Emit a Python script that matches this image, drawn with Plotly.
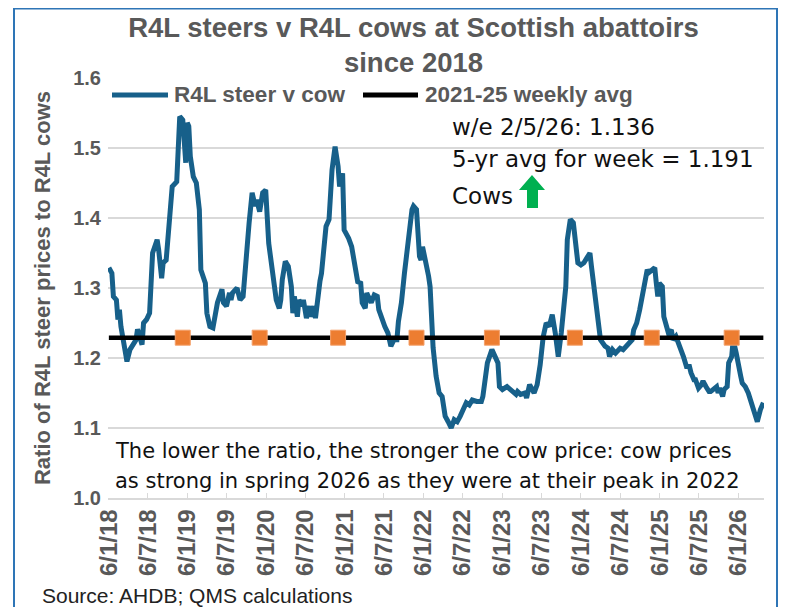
import plotly.graph_objects as go
import pandas as pd

# ---------------- data ----------------
start_date = "2018-01-06"
weeks = [0, 2, 3, 5, 6, 7, 8, 10, 12, 14, 16, 18, 19, 21, 22, 23, 25, 27, 28, 29,
         32, 33, 35, 36, 38, 40, 41, 42, 45, 46, 47, 49, 50, 51, 52, 53, 54, 56, 58, 60,
         61, 64, 65, 67, 69, 71, 72, 75, 76, 78, 80, 81, 82, 85, 87, 89, 91, 92, 93, 95,
         97, 98, 100, 102, 104, 106, 107, 109, 111, 113, 114, 115, 117, 119, 121, 122, 123, 125, 126, 128,
         129, 131, 133, 134, 136, 137, 139, 140, 141, 142, 144, 146, 148, 150, 152, 153, 155, 156, 159, 161,
         163, 165, 167, 168, 170, 171, 172, 174, 176, 178, 179, 181, 183, 185, 186, 187, 189, 191, 192, 194,
         196, 198, 199, 201, 202, 204, 206, 207, 208, 210, 212, 213, 214, 215, 217, 219, 221, 223, 225, 227,
         229, 231, 233, 235, 237, 239, 241, 244, 247, 248, 250, 251, 254, 256, 258, 259, 261, 264, 266, 268,
         270, 271, 273, 276, 277, 279, 281, 282, 284, 286, 288, 290, 292, 294, 296, 298, 300, 301, 303, 304,
         306, 308, 309, 311, 313, 315, 317, 319, 320, 321, 323, 325, 326, 329, 331, 332, 334, 336, 339, 341,
         343, 345, 347, 348, 350, 352, 354, 355, 357, 358, 360, 362, 363, 364, 365, 367, 368, 370, 371, 373,
         374, 376, 378, 379, 381, 383, 385, 386, 388, 389, 391, 393, 394, 396, 398, 399, 401, 403, 404, 405,
         407, 408, 410, 411, 413, 414, 416, 417, 419, 420, 422, 424, 426, 428, 430, 432, 434]
ratio = [1.329, 1.321, 1.288, 1.283, 1.255, 1.269, 1.245, 1.217, 1.195, 1.212, 1.219, 1.226, 1.241, 1.226, 1.219, 1.250, 1.255, 1.264, 1.302, 1.350,
         1.369, 1.355, 1.314, 1.336, 1.340, 1.388, 1.431, 1.445, 1.452, 1.498, 1.545, 1.540, 1.507, 1.479, 1.536, 1.531, 1.488, 1.459, 1.450, 1.412,
         1.326, 1.307, 1.264, 1.245, 1.243, 1.269, 1.279, 1.298, 1.279, 1.274, 1.293, 1.283, 1.293, 1.300, 1.283, 1.288, 1.350, 1.359, 1.393, 1.436,
         1.417, 1.426, 1.409, 1.436, 1.440, 1.364, 1.345, 1.307, 1.283, 1.271, 1.283, 1.312, 1.338, 1.331, 1.302, 1.264, 1.288, 1.259, 1.283, 1.274,
         1.283, 1.257, 1.274, 1.259, 1.274, 1.257, 1.298, 1.310, 1.321, 1.350, 1.388, 1.398, 1.469, 1.502, 1.474, 1.445, 1.464, 1.383, 1.371, 1.359,
         1.331, 1.309, 1.307, 1.279, 1.271, 1.293, 1.288, 1.279, 1.290, 1.288, 1.269, 1.255, 1.245, 1.236, 1.221, 1.217, 1.226, 1.226, 1.252, 1.279,
         1.321, 1.359, 1.383, 1.412, 1.417, 1.412, 1.345, 1.340, 1.359, 1.340, 1.317, 1.302, 1.259, 1.215, 1.174, 1.150, 1.145, 1.117, 1.109, 1.100,
         1.112, 1.109, 1.117, 1.126, 1.136, 1.133, 1.140, 1.138, 1.138, 1.145, 1.183, 1.193, 1.212, 1.200, 1.193, 1.159, 1.155, 1.159, 1.155, 1.152,
         1.148, 1.152, 1.148, 1.150, 1.143, 1.162, 1.155, 1.150, 1.162, 1.190, 1.230, 1.250, 1.245, 1.262, 1.236, 1.202, 1.236, 1.255, 1.302, 1.369,
         1.398, 1.393, 1.369, 1.336, 1.333, 1.336, 1.343, 1.350, 1.331, 1.312, 1.283, 1.250, 1.226, 1.217, 1.214, 1.202, 1.212, 1.207, 1.214, 1.212,
         1.217, 1.221, 1.226, 1.240, 1.250, 1.269, 1.293, 1.312, 1.326, 1.322, 1.326, 1.329, 1.307, 1.288, 1.307, 1.302, 1.259, 1.245, 1.236, 1.240,
         1.226, 1.231, 1.221, 1.212, 1.202, 1.188, 1.188, 1.179, 1.169, 1.169, 1.157, 1.162, 1.167, 1.159, 1.152, 1.152, 1.155, 1.159, 1.150, 1.157,
         1.145, 1.155, 1.159, 1.193, 1.202, 1.226, 1.207, 1.193, 1.174, 1.164, 1.159, 1.150, 1.136, 1.121, 1.109, 1.126, 1.136]

avg_value = 1.229
avg_weeks = [0, 434]
marker_weeks = [49, 100, 152, 204, 254, 309, 360, 413]

series_names = ["R4L steer v cow", "2021-25 weekly avg"]
series_colors = ["#17608A", "#000000"]

tick_labels = ["6/1/18", "6/7/18", "6/1/19", "6/7/19", "6/1/20", "6/7/20", "6/1/21", "6/7/21",
               "6/1/22", "6/7/22", "6/1/23", "6/7/23", "6/1/24", "6/7/24", "6/1/25", "6/7/25", "6/1/26"]
y_ticks = [1.0, 1.1, 1.2, 1.3, 1.4, 1.5, 1.6]

# ---------------- helpers ----------------
t0 = pd.Timestamp(start_date)
def wk(ws):
    return [t0 + pd.Timedelta(days=7 * w) for w in ws]

tick_dates = [t0 + pd.DateOffset(months=6 * i) for i in range(len(tick_labels))]

OFF = 8                      # page body margin
W, H = 789 - OFF, 607 - OFF
L, R, T, B = 100, 25, 70, 109
PW, PH = W - L - R, H - T - B
def px(xp):                  # page pixel -> paper
    return (xp - OFF - L) / PW
def py(yp):
    return (H - B - (yp - OFF)) / PH

GRAY = "#595959"
BOLD = "Liberation Sans, Arial"
TXT = "DejaVu Sans, Verdana, sans-serif"

fig = go.Figure()
fig.add_trace(go.Scatter(x=wk(weeks), y=ratio, mode="lines", name=series_names[0],
                         line=dict(color=series_colors[0], width=5)))
fig.add_trace(go.Scatter(x=wk(avg_weeks), y=[avg_value] * len(avg_weeks), mode="lines",
                         name=series_names[1], line=dict(color=series_colors[1], width=4.5)))
fig.add_trace(go.Scatter(x=wk(marker_weeks), y=[avg_value] * len(marker_weeks), mode="markers",
                         showlegend=False,
                         marker=dict(symbol="square", size=15, color="#ED7D31",
                                     line=dict(color="#F4A06A", width=1))))

fig.update_layout(
    width=W, height=H,
    margin=dict(l=L, r=R, t=T, b=B),
    paper_bgcolor="white", plot_bgcolor="white",
    title=dict(text="R4L steers v R4L cows at Scottish abattoirs<br>since 2018",
               x=405.5 / W, xanchor="center", xref="container",
               y=1 - 28.5 / H, yanchor="middle", yref="container",
               font=dict(family=BOLD, size=27.5, color=GRAY, weight="bold")),
    showlegend=False,
)

fig.update_xaxes(type="date",
                 range=[t0 - pd.Timedelta(days=4), t0 + pd.Timedelta(days=7 * 434 + 3)],
                 tickmode="array", tickvals=tick_dates, ticktext=tick_labels, tickangle=-90,
                 tickfont=dict(family=BOLD, size=24, color=GRAY, weight="bold"),
                 showgrid=False, showline=True, linecolor="#D9D9D9", linewidth=1.5,
                 ticks="inside", ticklen=5, tickcolor="#D9D9D9", zeroline=False)
fig.update_yaxes(range=[1.0, 1.6], tickmode="array", tickvals=y_ticks,
                 ticktext=[f"{v:.1f}" for v in y_ticks],
                 tickfont=dict(family=BOLD, size=20, color=GRAY, weight="bold"),
                 ticklabelstandoff=6,
                 showgrid=True, gridcolor="#D9D9D9", gridwidth=1.5, zeroline=False,
                 showline=False,
                 title=dict(text="Ratio of R4L steer prices to R4L cows", standoff=16,
                            font=dict(family=BOLD, size=22, color=GRAY, weight="bold")))

# legend (drawn by hand to match spacing)
leg_items = [(112, 168, 172), (363, 418, 423)]
for (x0, x1, xt), name, col in zip(leg_items, series_names, series_colors):
    fig.add_shape(type="line", xref="paper", yref="paper", x0=px(x0), x1=px(x1),
                  y0=py(95), y1=py(95), line=dict(color=col, width=5))
    fig.add_annotation(text=name, x=px(xt), y=py(95), xref="paper", yref="paper",
                       xanchor="left", yanchor="middle", showarrow=False,
                       font=dict(family=BOLD, size=22.5, color=GRAY, weight="bold"))

ann = [
    dict(text="w/e 2/5/26: 1.136", x=px(450), y=py(127), size=23),
    dict(text="5-yr avg for week = 1.191", x=px(450), y=py(159), size=23),
    dict(text="Cows", x=px(450), y=py(196), size=23),
    dict(text="The lower the ratio, the stronger the cow price: cow prices", x=px(113), y=py(451), size=21),
    dict(text="as strong in spring 2026 as they were at their peak in 2022", x=px(113), y=py(481), size=21),
]
for a in ann:
    fig.add_annotation(text=a["text"], x=a["x"], y=a["y"], xref="paper", yref="paper",
                       xanchor="left", yanchor="middle", showarrow=False,
                       font=dict(family=TXT, size=a["size"], color="#111111"))

fig.add_annotation(text="Source: AHDB; QMS calculations", x=px(40), y=py(595),
                   xref="paper", yref="paper", xanchor="left", yanchor="middle", showarrow=False,
                   font=dict(family=BOLD, size=21, color="#222222"))

# green arrow
ax = [532, 545, 538, 538, 527, 527, 519]
ay = [175, 190, 190, 208, 208, 190, 190]
path = "M " + " L ".join(f"{px(x):.5f},{py(y):.5f}" for x, y in zip(ax, ay)) + " Z"
fig.add_shape(type="path", path=path, xref="paper", yref="paper",
              fillcolor="#00B050", line=dict(width=0))

# outer border
fig.add_shape(type="rect", xref="paper", yref="paper",
              x0=px(14), x1=px(777), y0=py(640), y1=py(8.5),
              line=dict(color="#2E75B6", width=2), fillcolor="rgba(0,0,0,0)", layer="below")

fig.write_html("out.html")
